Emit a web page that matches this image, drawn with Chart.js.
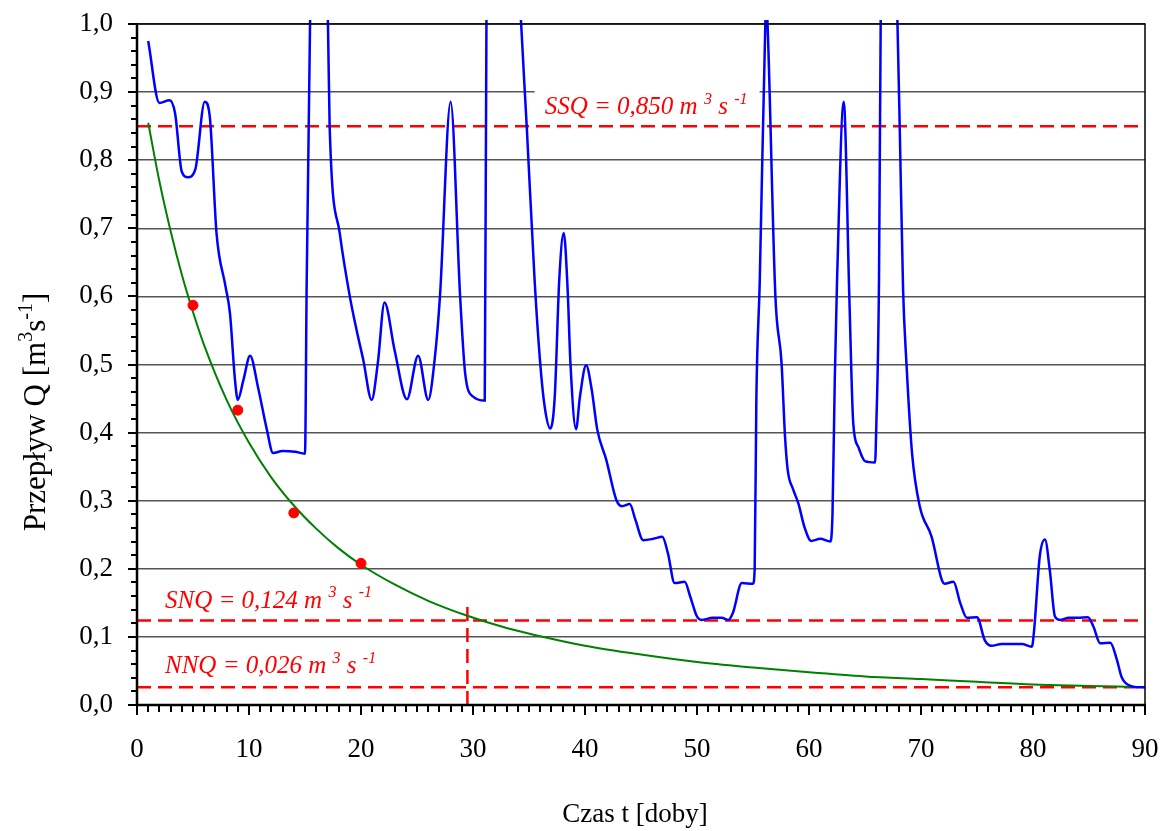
<!DOCTYPE html>
<html>
<head>
<meta charset="utf-8">
<script src="https://cdn.jsdelivr.net/npm/chart.js@4.4.1/dist/chart.umd.min.js"></script>
<style>
  html, body { margin: 0; padding: 0; background: #fff; }
  canvas { display: block; }
</style>
</head>
<body>
<canvas id="flowChart" width="1163" height="831"></canvas>
<script>
// Daily discharge hydrograph (t in days, Q in m3/s)
const flowDays = [1, 2, 2.9, 3.4, 4, 4.55, 5.2, 6.05, 6.5, 7.1, 7.9, 8.3, 8.75, 9, 9.5, 10.1, 10.8, 11.6, 12.15, 13, 14.1, 15,
  15.15, 15.45, 16.2, 17.05, 17.2, 18.1, 19, 19.6, 20.2, 20.95, 21.5, 22.1, 23, 24.1, 25.1, 26, 26.6, 27.05, 28, 28.85, 29.3, 30, 31.05,
  31.2, 32.7, 34.3, 34.8, 35.5, 36, 36.4, 36.9, 37.3, 37.7, 38.1, 38.45, 38.7, 39.2, 39.55, 40.1, 40.6, 41.1, 41.9, 42.8, 43.3, 44,
  44.5, 45.2, 46.1, 46.9, 47.4, 48, 48.9, 49.4, 50, 50.4, 51.4, 52.2, 52.8, 53.2, 54, 55, 55.15, 55.3, 55.6, 56.1, 56.2, 56.3, 57,
  57.55, 57.86, 58.1, 58.6, 59.05, 59.6, 60.2, 61, 61.9, 62.1, 62.3, 62.5, 63.1, 63.6, 63.95, 64.4, 65, 65.9, 66, 66.25, 66.4, 67.1,
  67.9, 68.1, 68.4, 68.7, 69.2, 69.9, 70.95, 71.85, 72.1, 72.9, 73.5, 74.1, 75, 75.7, 76.3, 77.2, 79, 79.9, 80.1, 80.6, 81.07, 81.5,
  81.96, 82.4, 83.2, 84, 84.9, 85.4, 86, 86.9, 87.5, 87.9, 88.7, 89.55, 90];
const flowQ = [0.975, 0.884, 0.888, 0.869, 0.783, 0.775, 0.786, 0.886, 0.864, 0.693, 0.615, 0.575, 0.477, 0.448, 0.477, 0.513, 0.467, 0.404, 0.370, 0.373, 0.372, 0.369,
  0.62, 1.0, 1.35, 1.0, 0.85, 0.693, 0.600, 0.551, 0.507, 0.448, 0.502, 0.591, 0.521, 0.449, 0.513, 0.448, 0.511, 0.600, 0.886, 0.600, 0.487, 0.453, 0.447,
  1.0, 1.6, 1.0, 0.849, 0.624, 0.502, 0.438, 0.406, 0.453, 0.624, 0.693, 0.610, 0.502, 0.405, 0.453, 0.499, 0.463, 0.404, 0.360, 0.301, 0.292, 0.295,
  0.272, 0.242, 0.244, 0.247, 0.223, 0.179, 0.181, 0.159, 0.130, 0.125, 0.128, 0.128, 0.125, 0.135, 0.179, 0.178, 0.200, 0.450, 0.620, 1.0, 1.03, 1.0, 0.600,
  0.502, 0.394, 0.345, 0.316, 0.296, 0.261, 0.241, 0.244, 0.240, 0.282, 0.477, 0.620, 0.886, 0.600, 0.414, 0.379, 0.358, 0.356, 0.404, 0.624, 1.0, 1.5,
  1.0, 0.849, 0.610, 0.502, 0.370, 0.291, 0.247, 0.184, 0.178, 0.181, 0.150, 0.128, 0.129, 0.095, 0.087, 0.0896, 0.0896, 0.0856, 0.110, 0.218, 0.243, 0.198,
  0.130, 0.125, 0.128, 0.128, 0.129, 0.115, 0.0906, 0.0915, 0.066, 0.0416, 0.028, 0.026, 0.026];

// Fitted recession curve
const recessionDays = [1, 2, 3, 4, 5, 6, 8, 10, 12, 14, 16, 18, 20, 23, 26, 29.5, 33, 36, 40, 45, 50, 55, 60, 65, 70, 75, 80, 85, 90];
const recessionQ = [0.855, 0.769, 0.696, 0.632, 0.577, 0.528, 0.448, 0.385, 0.334, 0.293, 0.259, 0.230, 0.206, 0.177, 0.153, 0.131, 0.113,
  0.101, 0.087, 0.074, 0.063, 0.055, 0.048, 0.042, 0.038, 0.034, 0.030, 0.028, 0.026];

// Measured points
const pointDays = [5, 9, 14, 20];
const pointQ = [0.587, 0.433, 0.282, 0.208];

// Characteristic flows
const SSQ = 0.850;
const SNQ = 0.124;
const NNQ = 0.026;
const crossDay = 29.5;
const crossTop = 0.147;

const yTicks = [0, 0.1, 0.2, 0.3, 0.4, 0.5, 0.6, 0.7, 0.8, 0.9, 1.0];
const xTicks = [0, 10, 20, 30, 40, 50, 60, 70, 80, 90];

const serif = "'Liberation Serif', 'Times New Roman', serif";
const toXY = (xs, ys) => xs.map((x, i) => ({ x: x, y: ys[i] }));
const fmt = v => v.toFixed(3).replace('.', ',');

function richWidth(ctx, parts, size, style) {
  let w = 0;
  parts.forEach(p => {
    ctx.font = style + ' ' + (p.sup ? Math.round(size * 0.65) : size) + 'px ' + serif;
    w += ctx.measureText(p.t).width;
  });
  return w;
}

function drawRich(ctx, x, y, parts, size, style) {
  let cx = x;
  parts.forEach(p => {
    ctx.font = style + ' ' + (p.sup ? Math.round(size * 0.65) : size) + 'px ' + serif;
    ctx.fillText(p.t, cx, p.sup ? y - size * 0.42 : y);
    cx += ctx.measureText(p.t).width;
  });
}

const unitParts = (name, v) => [
  { t: name + ' = ' + fmt(v) + ' m ' }, { t: '3', sup: true }, { t: ' s ' }, { t: '-1', sup: true }
];

const frame = {
  id: 'frame',
  beforeDatasetsDraw(chart) {
    const { ctx } = chart;
    const y = chart.scales.y.getPixelForValue(SSQ) - 12;
    ctx.save();
    ctx.fillStyle = '#fff';
    ctx.fillRect(chart.scales.x.getPixelForValue(35.5), y - 30, 225, 38);
    ctx.restore();
  },
  afterDraw(chart) {
    const { ctx, chartArea: a } = chart;
    const xs = chart.scales.x, ys = chart.scales.y;
    ctx.save();
    ctx.strokeStyle = '#000';

    // frame
    ctx.lineWidth = 1.5;
    ctx.beginPath();
    ctx.moveTo(a.left, a.top); ctx.lineTo(a.right, a.top); ctx.lineTo(a.right, a.bottom);
    ctx.stroke();
    ctx.lineWidth = 2.5;
    ctx.beginPath();
    ctx.moveTo(a.left, a.top - 1); ctx.lineTo(a.left, a.bottom); ctx.lineTo(a.right + 1, a.bottom);
    ctx.stroke();

    // tick marks
    ctx.lineWidth = 2;
    ctx.beginPath();
    for (let d = 0; d <= 90; d++) {
      const px = Math.round(xs.getPixelForValue(d));
      ctx.moveTo(px, a.bottom); ctx.lineTo(px, a.bottom + (d % 10 === 0 ? 10 : 7));
    }
    for (let i = 0; i <= 50; i++) {
      const py = Math.round(ys.getPixelForValue(i * 0.02));
      ctx.moveTo(a.left, py); ctx.lineTo(a.left - (i % 5 === 0 ? 9 : 6), py);
    }
    ctx.stroke();

    // threshold labels
    ctx.fillStyle = '#ff0000';
    ctx.textBaseline = 'alphabetic';
    ctx.textAlign = 'left';
    drawRich(ctx, xs.getPixelForValue(36.4), ys.getPixelForValue(SSQ) - 12, unitParts('SSQ', SSQ), 25, 'italic');
    drawRich(ctx, xs.getPixelForValue(2.5), ys.getPixelForValue(SNQ) - 13, unitParts('SNQ', SNQ), 25, 'italic');
    drawRich(ctx, xs.getPixelForValue(2.5), ys.getPixelForValue(NNQ) - 14, unitParts('NNQ', NNQ), 25, 'italic');

    // axis titles
    ctx.fillStyle = '#000';
    ctx.textAlign = 'center';
    ctx.font = '27px ' + serif;
    ctx.fillText('Czas t [doby]', 635, 822);

    const yTitle = [{ t: 'Przepływ Q [m' }, { t: '3', sup: true }, { t: 's' }, { t: '-1', sup: true }, { t: ']' }];
    ctx.textAlign = 'left';
    ctx.translate(45, 412);
    ctx.rotate(-Math.PI / 2);
    drawRich(ctx, -richWidth(ctx, yTitle, 31, 'normal') / 2, 0, yTitle, 31, 'normal');
    ctx.restore();
  }
};

const hLine = (v) => ({
  data: [{ x: 0, y: v }, { x: 90, y: v }],
  borderColor: '#ff0000', borderWidth: 2.5, borderDash: [14, 7], pointRadius: 0
});

new Chart(document.getElementById('flowChart'), {
  type: 'line',
  data: {
    datasets: [
      {
        type: 'scatter',
        data: toXY(pointDays, pointQ),
        backgroundColor: '#ff0000', borderColor: '#ff0000',
        pointRadius: 5, pointHoverRadius: 5
      },
      {
        data: toXY(flowDays, flowQ),
        borderColor: '#0000ff', borderWidth: 2.5,
        cubicInterpolationMode: 'monotone', pointRadius: 0,
        clip: { left: 2, top: 4, right: 2, bottom: 2 }
      },
      {
        data: toXY(recessionDays, recessionQ),
        borderColor: '#008000', borderWidth: 2,
        cubicInterpolationMode: 'monotone', pointRadius: 0
      },
      hLine(SSQ),
      hLine(SNQ),
      hLine(NNQ),
      {
        data: [{ x: crossDay, y: 0 }, { x: crossDay, y: crossTop }],
        borderColor: '#ff0000', borderWidth: 2.5, borderDash: [14, 7], pointRadius: 0
      }
    ]
  },
  options: {
    responsive: false,
    animation: false,
    layout: { padding: { top: 24, right: 18, left: 0, bottom: 0 } },
    plugins: {
      legend: { display: false },
      tooltip: { enabled: false }
    },
    scales: {
      x: {
        type: 'linear',
        min: 0, max: 90,
        afterFit: s => { s.height = 126; s.paddingLeft = 0; s.paddingRight = 0; },
        afterBuildTicks: s => { s.ticks = xTicks.map(v => ({ value: v })); },
        grid: { display: false, drawTicks: false },
        border: { display: false },
        ticks: {
          padding: 29,
          color: '#000',
          font: { family: serif, size: 27 },
          maxRotation: 0
        }
      },
      y: {
        min: 0, max: 1,
        afterFit: s => { s.width = 137; s.paddingTop = 0; s.paddingBottom = 0; },
        afterBuildTicks: s => { s.ticks = yTicks.map(v => ({ value: v })); },
        grid: {
          drawTicks: false,
          color: '#555',
          lineWidth: 1.5
        },
        border: { display: false },
        ticks: {
          padding: 24,
          color: '#000',
          font: { family: serif, size: 27 },
          callback: v => v.toFixed(1).replace('.', ',')
        }
      }
    }
  },
  plugins: [frame]
});
</script>
</body>
</html>
